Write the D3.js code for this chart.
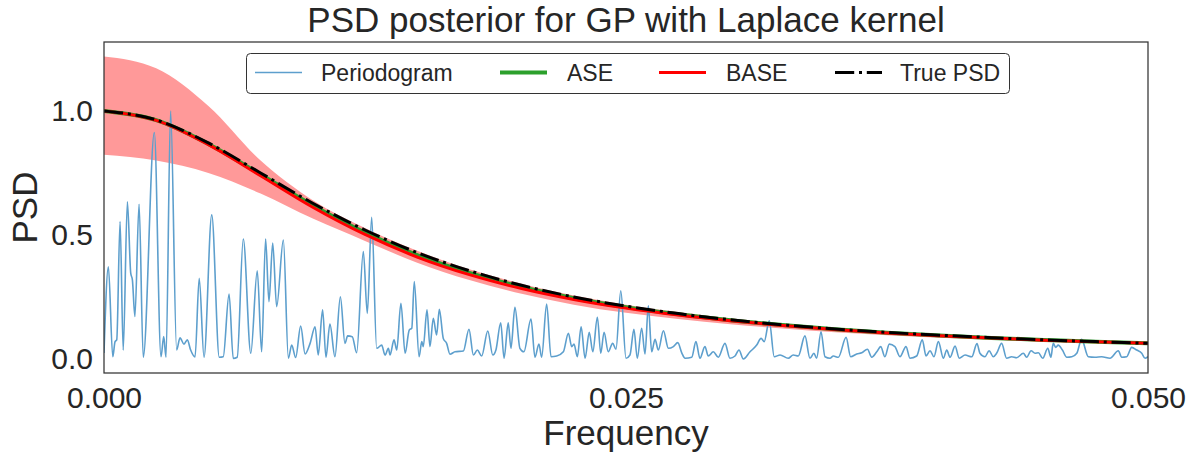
<!DOCTYPE html>
<html><head><meta charset="utf-8">
<script src="https://cdn.jsdelivr.net/npm/d3@7"></script>
<style>body{margin:0;background:#fff}svg{display:block}text{font-family:"Liberation Sans",Arial,sans-serif;fill:#262626}</style>
</head><body><svg id="c" width="1199" height="452"></svg>
<script>
// Periodogram (frequency, value)
const pgFreq = [0,0.00021,0.00042,0.00053,0.00061,0.00077,0.00092,0.00112,0.00128,0.00136,0.00148,0.00168,0.00188,0.00241,0.00273,0.00286,0.00297,0.00319,0.00348,0.00364,0.00383,0.00399,0.00415,0.00436,0.00456,0.00479,0.00516,0.00552,0.00571,0.00599,0.00619,0.00638,0.00667,0.00703,0.00734,0.00755,0.00774,0.00790,0.00808,0.00827,0.00859,0.00883,0.00899,0.00918,0.00942,0.00963,0.00987,0.01011,0.01026,0.01047,0.01063,0.01082,0.01106,0.01132,0.01154,0.01167,0.01189,0.01210,0.01242,0.01261,0.01282,0.01306,0.01330,0.01346,0.01362,0.01370,0.01389,0.01402,0.01422,0.01442,0.01462,0.01474,0.01486,0.01509,0.01522,0.01529,0.01547,0.01561,0.01577,0.01593,0.01606,0.01625,0.01641,0.01657,0.01681,0.01721,0.01748,0.01769,0.01788,0.01809,0.01838,0.01862,0.01877,0.01900,0.01916,0.01936,0.01949,0.01968,0.01992,0.02011,0.02045,0.02064,0.02083,0.02096,0.02120,0.02141,0.02168,0.02200,0.02224,0.02240,0.02251,0.02267,0.02285,0.02304,0.02324,0.02341,0.02363,0.02379,0.02395,0.02415,0.02436,0.02452,0.02475,0.02500,0.02519,0.02538,0.02554,0.02575,0.02591,0.02607,0.02623,0.02639,0.02655,0.02679,0.02703,0.02727,0.02748,0.02767,0.02783,0.02815,0.02835,0.02854,0.02878,0.02894,0.02918,0.02942,0.02974,0.02998,0.03022,0.03041,0.03062,0.03094,0.03126,0.03147,0.03162,0.03186,0.03210,0.03238,0.03277,0.03301,0.03325,0.03357,0.03381,0.03400,0.03413,0.03434,0.03453,0.03477,0.03493,0.03517,0.03554,0.03576,0.03605,0.03629,0.03656,0.03677,0.03701,0.03720,0.03740,0.03761,0.03788,0.03812,0.03841,0.03860,0.03892,0.03919,0.03937,0.03956,0.03975,0.03996,0.04020,0.04036,0.04052,0.04076,0.04096,0.04124,0.04156,0.04181,0.04195,0.04219,0.04239,0.04259,0.04275,0.04299,0.04323,0.04347,0.04371,0.04403,0.04419,0.04440,0.04459,0.04475,0.04496,0.04520,0.04535,0.04546,0.04558,0.04570,0.04590,0.04611,0.04635,0.04659,0.04682,0.04714,0.04746,0.04778,0.04818,0.04858,0.04874,0.04898,0.04922,0.04946,0.04970,0.04986,0.05000];
const pgValue = [0.024,0.372,0.009,0.070,0.077,0.554,0.036,0.634,0.346,0.319,0.171,0.624,0.007,0.913,0.009,0.090,0.007,1.000,0.036,0.085,0.060,0.077,0.036,0.008,0.325,0.007,0.581,0.007,0.009,0.262,0.002,0.007,0.484,0.023,0.356,0.029,0.484,0.231,0.467,0.211,0.480,0.003,0.056,0.006,0.133,0.020,0.063,0.130,0.016,0.198,0.007,0.141,0.009,0.251,0.063,0.093,0.090,0.025,0.433,0.184,0.571,0.043,0.056,0.016,0.043,0.016,0.077,0.036,0.225,0.023,0.117,0.124,0.312,0.009,0.070,0.050,0.198,0.050,0.164,0.097,0.200,0.083,0.063,0.019,0.029,0.032,0.120,0.016,0.036,0.012,0.113,0.016,0.036,0.146,0.003,0.146,0.043,0.208,0.043,0.029,0.161,0.007,0.060,0.007,0.221,0.009,0.012,0.029,0.104,0.050,0.060,0.009,0.130,0.003,0.108,0.029,0.168,0.023,0.108,0.029,0.063,0.039,0.275,0.003,0.016,0.120,0.003,0.124,0.020,0.214,0.029,0.079,0.036,0.114,0.043,0.050,0.066,0.025,0.003,0.007,0.070,0.003,0.050,0.012,0.029,0.007,0.063,0.003,0.012,0.036,0.000,0.029,0.056,0.083,0.070,0.154,0.009,0.016,0.003,0.016,0.012,0.093,0.003,0.023,0.003,0.110,0.009,0.003,0.012,0.007,0.087,0.009,0.020,0.025,0.039,0.007,0.029,0.050,0.009,0.060,0.050,0.009,0.050,0.003,0.012,0.077,0.012,0.033,0.009,0.070,0.003,0.036,0.007,0.052,0.003,0.016,0.009,0.062,0.023,0.009,0.033,0.009,0.023,0.063,0.003,0.009,0.005,0.023,0.007,0.033,0.023,0.025,0.003,0.043,0.007,0.063,0.047,0.056,0.036,0.007,0.009,0.023,0.079,0.009,0.007,0.009,0.003,0.033,0.007,0.009,0.047,0.036,0.023,0.003,0.009];

// Smooth curves read on a regular frequency grid
const curveFreq = [0,0.0025,0.005,0.0075,0.01,0.0125,0.015,0.0175,0.02,0.0225,0.025,0.0275,0.03,0.0325,0.035,0.0375,0.04,0.0425,0.045,0.0475,0.05];
const truePSD = [1.000,0.964,0.871,0.750,0.628,0.520,0.429,0.356,0.297,0.250,0.213,0.183,0.158,0.138,0.121,0.107,0.096,0.086,0.077,0.070,0.063];
const aseMean = [1.000,0.963,0.867,0.744,0.619,0.510,0.419,0.347,0.290,0.245,0.209,0.180,0.156,0.137,0.120,0.106,0.095,0.085,0.077,0.069,0.063];
const baseMean = [1.000,0.962,0.864,0.739,0.612,0.502,0.411,0.340,0.284,0.240,0.205,0.177,0.154,0.135,0.119,0.105,0.094,0.085,0.076,0.069,0.063];
const baseUpper = [1.220,1.172,1.020,0.800,0.640,0.528,0.436,0.362,0.303,0.256,0.219,0.189,0.164,0.143,0.126,0.112,0.100,0.090,0.081,0.074,0.067];
const baseLower = [0.823,0.800,0.750,0.667,0.566,0.476,0.388,0.318,0.263,0.219,0.186,0.161,0.140,0.123,0.108,0.096,0.086,0.078,0.070,0.064,0.058];

const xTicks = [0, 0.025, 0.05];
const xTickLabels = ["0.000","0.025","0.050"];
const yTicks = [0, 0.5, 1.0];
const yTickLabels = ["0.0","0.5","1.0"];
const legendLabels = ["Periodogram","ASE","BASE","True PSD"];

const svg = d3.select("#c");
const L = 104, R = 1148, T = 42, B = 373;
const x = d3.scaleLinear().domain([0, 0.05]).range([L, R]);
const y = d3.scaleLinear().domain([-0.0565, 1.278]).range([B, T]);

svg.append("defs").append("clipPath").attr("id","clip").append("rect")
  .attr("x",L).attr("y",T).attr("width",R-L).attr("height",B-T);
const g = svg.append("g").attr("clip-path","url(#clip)");

const band = curveFreq.map((f,i)=>({f, lo: baseLower[i], hi: baseUpper[i]}));
g.append("path").datum(band)
  .attr("d", d3.area().x(d=>x(d.f)).y0(d=>y(d.lo)).y1(d=>y(d.hi)).curve(d3.curveMonotoneX))
  .attr("fill","#ff9999");

const pg = pgFreq.map((f,i)=>[f,pgValue[i]]);
g.append("path").datum(pg)
  .attr("d", d3.line().x(d=>x(d[0])).y(d=>y(d[1])).curve(d3.curveMonotoneX))
  .attr("fill","none").attr("stroke","#5d9fcd").attr("stroke-width",1.6);

const line = d3.line().x(d=>x(d[0])).y(d=>y(d[1])).curve(d3.curveMonotoneX);
g.append("path").datum(curveFreq.map((f,i)=>[f,aseMean[i]])).attr("d",line)
  .attr("fill","none").attr("stroke","#2ca02c").attr("stroke-width",4);
g.append("path").datum(curveFreq.map((f,i)=>[f,baseMean[i]])).attr("d",line)
  .attr("fill","none").attr("stroke","#ff0000").attr("stroke-width",3);
g.append("path").datum(curveFreq.map((f,i)=>[f,truePSD[i]])).attr("d",line)
  .attr("fill","none").attr("stroke","#000").attr("stroke-width",3)
  .attr("stroke-dasharray","19.2,4.8,3,4.8");

// frame
svg.append("rect").attr("x",L).attr("y",T).attr("width",R-L).attr("height",B-T)
  .attr("fill","none").attr("stroke","#333").attr("stroke-width",1.25);

// axes (no tick marks)
const FF = "Liberation Sans, Arial, sans-serif";
const xAxis = svg.append("g").attr("transform",`translate(0,${B})`)
  .call(d3.axisBottom(x).tickValues(xTicks).tickFormat((d,i)=>xTickLabels[i]).tickSize(0).tickPadding(14));
xAxis.select(".domain").remove();
xAxis.selectAll("text").attr("font-size",30).attr("fill","#262626").attr("font-family",FF);
const yAxis = svg.append("g").attr("transform",`translate(${L},0)`)
  .call(d3.axisLeft(y).tickValues(yTicks).tickFormat((d,i)=>yTickLabels[i]).tickSize(0).tickPadding(11));
yAxis.select(".domain").remove();
yAxis.selectAll("text").attr("font-size",30).attr("fill","#262626").attr("font-family",FF);

svg.append("text").attr("x",(L+R)/2).attr("y",445).attr("text-anchor","middle").attr("font-size",35).text("Frequency");
svg.append("text").attr("transform",`translate(37,${(T+B)/2}) rotate(-90)`).attr("text-anchor","middle").attr("font-size",35).text("PSD");
svg.append("text").attr("x",(L+R)/2).attr("y",32).attr("text-anchor","middle").attr("font-size",35).text("PSD posterior for GP with Laplace kernel");

// legend
const lg = svg.append("g");
lg.append("rect").attr("x",246.5).attr("y",53.5).attr("width",763).attr("height",40).attr("rx",4)
  .attr("fill","#fff").attr("stroke","#333").attr("stroke-width",1);
const items = [
  {x0:255, tx:321, stroke:"#5d9fcd", w:1.6, dash:null},
  {x0:500, tx:567, stroke:"#2ca02c", w:4, dash:null},
  {x0:659, tx:726, stroke:"#ff0000", w:3, dash:null},
  {x0:835, tx:900, stroke:"#000", w:3, dash:"19.2,4.8,3,4.8"}
];
items.forEach((it,i)=>{
  const l = lg.append("line").attr("x1",it.x0).attr("x2",it.x0+47).attr("y1",72.5).attr("y2",72.5)
    .attr("stroke",it.stroke).attr("stroke-width",it.w);
  if(it.dash) l.attr("stroke-dasharray",it.dash);
  lg.append("text").attr("x",it.tx).attr("y",80.5).attr("font-size",23).text(legendLabels[i]);
});
</script></body></html>
